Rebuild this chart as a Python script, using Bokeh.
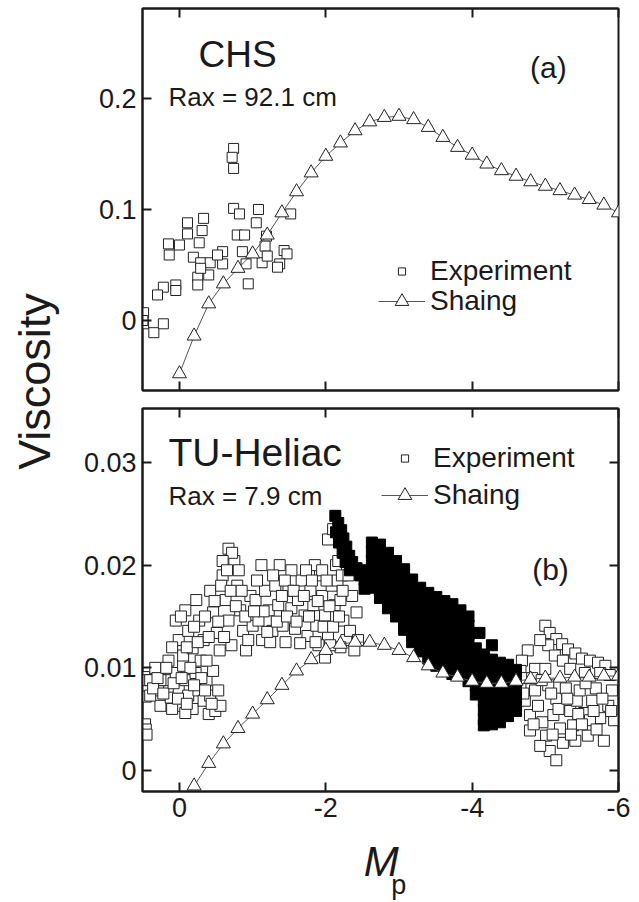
import math
from bokeh.plotting import figure
from bokeh.models import (Range1d, LinearAxis, FixedTicker, CustomJSTickFormatter,
                          Label, Legend, LegendItem)
from bokeh.layouts import row, column
from bokeh.embed import file_html
from bokeh.resources import INLINE

FONT = "Liberation Sans"
INK = "#1a1a1a"

# ---------------- data ----------------
x_ticks = [0, -2, -4, -6]
chs_ticks = [0, 0.1, 0.2]
tu_ticks = [0, 0.01, 0.02, 0.03]

chs_shaing_x = [0.0, -0.2, -0.4, -0.6, -0.8, -1.0, -1.2, -1.4, -1.6, -1.8, -2.0,
                -2.2, -2.4, -2.6, -2.8, -3.0, -3.2, -3.4, -3.6, -3.8, -4.0,
                -4.2, -4.4, -4.6, -4.8, -5.0, -5.2, -5.4, -5.6, -5.8, -6.0]
chs_shaing_y = [-0.048, -0.014, 0.015, 0.033, 0.047, 0.060, 0.077, 0.097, 0.116, 0.133, 0.148,
                0.160, 0.171, 0.179, 0.183, 0.184, 0.181, 0.174, 0.165, 0.156, 0.149,
                0.141, 0.135, 0.130, 0.125, 0.121, 0.117, 0.113, 0.109, 0.104, 0.097]

chs_exp = [(-0.74, 0.155), (-0.72, 0.147), (-0.74, 0.137), (-0.74, 0.101), (-0.82, 0.096),
           (-1.08, 0.100), (-1.05, 0.088), (-1.52, 0.096), (-0.11, 0.088), (-0.33, 0.092),
           (-0.11, 0.078), (-0.31, 0.081), (0.15, 0.069), (0.0, 0.068), (0.14, 0.059),
           (-0.27, 0.070), (-0.79, 0.077), (-0.89, 0.077), (-1.19, 0.076), (-1.17, 0.067),
           (-0.86, 0.062), (-0.59, 0.062), (-0.19, 0.057), (-0.29, 0.052), (-0.42, 0.052),
           (-0.59, 0.051), (-0.91, 0.051), (-1.13, 0.052), (-1.20, 0.058), (-1.43, 0.063),
           (-1.47, 0.060), (-1.37, 0.051), (-1.34, 0.048), (-0.25, 0.039), (-0.40, 0.041),
           (-0.25, 0.032), (-0.94, 0.033), (0.22, 0.030), (0.05, 0.032), (0.05, 0.027),
           (0.30, 0.023), (0.49, 0.007), (0.49, -0.003), (0.35, -0.011), (0.22, -0.003),
           (0.50, 0.000), (-0.52, 0.059), (-0.29, 0.047)]

tu_shaing_x = [-0.2, -0.4, -0.6, -0.8, -1.0, -1.2, -1.4, -1.6, -1.8, -2.0,
               -2.2, -2.4, -2.6, -2.8, -3.0, -3.2, -3.4, -3.6, -3.8, -4.0,
               -4.2, -4.4, -4.6, -4.8, -5.0, -5.2, -5.4, -5.6, -5.8, -6.0]
tu_shaing_y = [-0.0015, 0.0007, 0.0026, 0.0041, 0.0055, 0.0069, 0.0083, 0.0097, 0.0108, 0.0117,
               0.0123, 0.0125, 0.0125, 0.0122, 0.0117, 0.0110, 0.0102, 0.0095, 0.0091, 0.0087,
               0.0085, 0.0085, 0.0087, 0.0089, 0.0090, 0.0090, 0.0091, 0.0091, 0.0092, 0.0092]

tu_exp = [
    # left edge
    (0.48, 0.0091), (0.48, 0.0084), (0.47, 0.0078), (0.46, 0.0072), (0.44, 0.0088),
    (0.47, 0.0045), (0.46, 0.0040), (0.45, 0.0035),
    # lower-left lobe
    (0.33, 0.0100), (0.29, 0.0078), (0.26, 0.0063), (0.19, 0.0088), (0.15, 0.0107),
    (0.12, 0.0071), (0.05, 0.0095), (0.01, 0.0080), (-0.01, 0.0063), (-0.05, 0.0102),
    (-0.08, 0.0088), (-0.12, 0.0073), (-0.18, 0.0060), (-0.22, 0.0095), (-0.26, 0.0078),
    (-0.29, 0.0107), (-0.33, 0.0068), (-0.37, 0.0088), (-0.40, 0.0055), (-0.42, 0.0073),
    (-0.46, 0.0097), (-0.49, 0.0058), (-0.53, 0.0078), (-0.56, 0.0063), (0.26, 0.0088),
    (0.10, 0.0060), (-0.08, 0.0056), (0.40, 0.0088), (0.40, 0.0073), (0.36, 0.0080),
    (0.22, 0.0075), (-0.15, 0.0100), (-0.30, 0.0090),
    (0.30, 0.0090), (0.18, 0.0100), (0.08, 0.0085), (-0.03, 0.0090), (-0.44, 0.0065),
    (-0.35, 0.0078), (-0.20, 0.0083), (0.02, 0.0070), (-0.10, 0.0065),
    # upper-left lobe
    (0.05, 0.0146), (0.01, 0.0127), (-0.05, 0.0112), (-0.08, 0.0156), (-0.12, 0.0136),
    (-0.18, 0.0119), (-0.23, 0.0166), (-0.27, 0.0146), (-0.33, 0.0127), (-0.37, 0.0107),
    (-0.42, 0.0175), (-0.46, 0.0154), (-0.51, 0.0134), (-0.55, 0.0117), (-0.59, 0.0190),
    (-0.63, 0.0166), (-0.67, 0.0146), (-0.71, 0.0122), (-0.75, 0.0204), (-0.79, 0.0180),
    (-0.83, 0.0156), (-0.87, 0.0136), (-0.91, 0.0117), (-0.67, 0.0216), (-0.72, 0.0212),
    (-0.59, 0.0204), (-0.81, 0.0195), (-0.97, 0.0170), (-1.00, 0.0141), (-0.94, 0.0127),
    (0.10, 0.0120), (-0.02, 0.0150),
    (-0.10, 0.0120), (-0.20, 0.0140), (-0.25, 0.0125), (-0.35, 0.0150), (-0.40, 0.0130),
    (-0.48, 0.0165), (-0.53, 0.0145), (-0.57, 0.0180), (-0.61, 0.0130), (-0.65, 0.0195),
    (-0.70, 0.0175), (-0.77, 0.0160), (-0.85, 0.0175), (-0.90, 0.0150),
    # middle
    (-1.04, 0.0166), (-1.08, 0.0146), (-1.13, 0.0127), (-1.17, 0.0175), (-1.22, 0.0156),
    (-1.27, 0.0136), (-1.31, 0.0180), (-1.35, 0.0161), (-1.41, 0.0141), (-1.45, 0.0125),
    (-1.49, 0.0175), (-1.53, 0.0158), (-1.58, 0.0138), (-1.62, 0.0166), (-1.67, 0.0185),
    (-1.71, 0.0151), (-1.75, 0.0131), (-1.79, 0.0175), (-1.83, 0.0161), (-1.87, 0.0141),
    (-1.92, 0.0190), (-1.95, 0.0170), (-1.99, 0.0151), (-2.03, 0.0131), (-2.08, 0.0180),
    (-2.12, 0.0161), (-2.16, 0.0185), (-2.20, 0.0166), (-2.24, 0.0146), (-2.28, 0.0127),
    (-1.90, 0.0122), (-1.65, 0.0124), (-1.24, 0.0125), (-1.37, 0.0200), (-1.53, 0.0195),
    (-1.85, 0.0200), (-1.95, 0.0195), (-2.03, 0.0225),
    (-1.06, 0.0185), (-1.15, 0.0155), (-1.20, 0.0135), (-1.28, 0.0190), (-1.33, 0.0145),
    (-1.40, 0.0170), (-1.44, 0.0185), (-1.47, 0.0150), (-1.56, 0.0175), (-1.60, 0.0145),
    (-1.70, 0.0170), (-1.73, 0.0195), (-1.77, 0.0150), (-1.81, 0.0185), (-1.86, 0.0125),
    (-1.89, 0.0165), (-1.97, 0.0140), (-2.01, 0.0185), (-2.05, 0.0160), (-2.10, 0.0140),
    (-2.14, 0.0200), (-2.18, 0.0150), (-2.22, 0.0190), (-1.12, 0.0200), (-1.02, 0.0155),
    # around the first dark streak
    (-2.31, 0.0190), (-2.36, 0.0170), (-2.42, 0.0154), (-2.33, 0.0136), (-2.27, 0.0204),
    (-2.44, 0.0127), (-2.10, 0.0235), (-2.17, 0.0204), (-2.23, 0.0175), (-2.39, 0.0117),
    (-2.20, 0.0120), (-1.99, 0.0110), (-2.06, 0.0122),
    # right cluster, upper
    (-5.00, 0.0141), (-5.06, 0.0134), (-5.15, 0.0128), (-5.23, 0.0123), (-5.31, 0.0118),
    (-5.41, 0.0114), (-5.50, 0.0109), (-5.61, 0.0107), (-5.72, 0.0105), (-5.82, 0.0102),
    (-5.04, 0.0122), (-5.13, 0.0112), (-5.24, 0.0107), (-4.93, 0.0127), (-4.76, 0.0117),
    (-4.68, 0.0107), (-4.86, 0.0099), (-5.00, 0.0099), (-5.34, 0.0099), (-5.54, 0.0095),
    (-5.75, 0.0095), (-5.88, 0.0093), (-4.66, 0.0097),
    # right cluster, lower
    (-4.66, 0.0083), (-4.72, 0.0068), (-4.79, 0.0054), (-4.86, 0.0078), (-4.90, 0.0063),
    (-4.96, 0.0047), (-5.01, 0.0034), (-5.06, 0.0019), (-5.11, 0.0054), (-5.15, 0.0070),
    (-5.20, 0.0041), (-5.24, 0.0027), (-5.28, 0.0080), (-5.34, 0.0058), (-5.38, 0.0044),
    (-5.43, 0.0068), (-5.47, 0.0078), (-5.53, 0.0056), (-5.58, 0.0034), (-5.64, 0.0068),
    (-5.69, 0.0080), (-5.75, 0.0051), (-5.80, 0.0029), (-5.86, 0.0063), (-5.91, 0.0078),
    (-5.04, 0.0083), (-4.79, 0.0039), (-4.93, 0.0024), (-5.15, 0.0010), (-5.61, 0.0049),
    (-5.94, 0.0049), (-4.68, 0.0090), (-5.41, 0.0029),
    (-4.70, 0.0075), (-4.82, 0.0090), (-4.95, 0.0088), (-5.08, 0.0075), (-5.18, 0.0060),
    (-5.30, 0.0070), (-5.45, 0.0055), (-5.55, 0.0085), (-5.66, 0.0058), (-5.78, 0.0070),
    (-5.90, 0.0058), (-4.84, 0.0045), (-5.10, 0.0035), (-5.50, 0.0045), (-5.70, 0.0040),
    (-5.35, 0.0035),
]

tu_filled = [
    # steep streak near -2.2
    (-2.13, 0.0248), (-2.17, 0.0241), (-2.21, 0.0234), (-2.14, 0.0232), (-2.24, 0.0226),
    (-2.18, 0.0222), (-2.28, 0.0218), (-2.23, 0.0212), (-2.32, 0.0209), (-2.27, 0.0203),
    (-2.36, 0.0203), (-2.42, 0.0197), (-2.33, 0.0195), (-2.47, 0.0190), (-2.54, 0.0185),
    (-2.53, 0.0195), (-2.53, 0.0186), (-2.53, 0.0177),
    # long diagonal band
    (-2.63, 0.0222), (-2.63, 0.0213), (-2.63, 0.0204), (-2.63, 0.0195), (-2.63, 0.0186), (-2.63, 0.0178),
    (-2.74, 0.0220), (-2.74, 0.0211), (-2.74, 0.0202), (-2.74, 0.0193), (-2.74, 0.0184), (-2.74, 0.0175),
    (-2.74, 0.0168),
    (-2.85, 0.0212), (-2.85, 0.0203), (-2.85, 0.0194), (-2.85, 0.0185), (-2.85, 0.0176), (-2.85, 0.0167),
    (-2.85, 0.0158),
    (-2.96, 0.0204), (-2.96, 0.0195), (-2.96, 0.0186), (-2.96, 0.0177), (-2.96, 0.0168), (-2.96, 0.0159),
    (-2.96, 0.0150),
    (-3.07, 0.0196), (-3.07, 0.0187), (-3.07, 0.0178), (-3.07, 0.0169), (-3.07, 0.0160), (-3.07, 0.0151),
    (-3.07, 0.0142), (-3.07, 0.0137),
    (-3.18, 0.0186), (-3.18, 0.0177), (-3.18, 0.0168), (-3.18, 0.0159), (-3.18, 0.0150), (-3.18, 0.0141),
    (-3.18, 0.0132), (-3.18, 0.0125),
    (-3.29, 0.0178), (-3.29, 0.0169), (-3.29, 0.0160), (-3.29, 0.0151), (-3.29, 0.0142), (-3.29, 0.0133),
    (-3.29, 0.0124), (-3.29, 0.0116),
    (-3.40, 0.0173), (-3.40, 0.0164), (-3.40, 0.0155), (-3.40, 0.0146), (-3.40, 0.0137), (-3.40, 0.0128),
    (-3.40, 0.0119), (-3.40, 0.0109),
    (-3.51, 0.0169), (-3.51, 0.0160), (-3.51, 0.0151), (-3.51, 0.0142), (-3.51, 0.0133), (-3.51, 0.0124),
    (-3.51, 0.0115), (-3.51, 0.0106), (-3.51, 0.0102),
    (-3.62, 0.0165), (-3.62, 0.0156), (-3.62, 0.0147), (-3.62, 0.0138), (-3.62, 0.0129), (-3.62, 0.0120),
    (-3.62, 0.0111), (-3.62, 0.0102), (-3.62, 0.0098),
    (-3.73, 0.0162), (-3.73, 0.0153), (-3.73, 0.0144), (-3.73, 0.0135), (-3.73, 0.0126), (-3.73, 0.0117),
    (-3.73, 0.0108), (-3.73, 0.0099), (-3.73, 0.0094),
    (-3.84, 0.0156), (-3.84, 0.0147), (-3.84, 0.0138), (-3.84, 0.0129), (-3.84, 0.0120), (-3.84, 0.0111),
    (-3.84, 0.0102), (-3.84, 0.0093),
    (-3.95, 0.0150), (-3.95, 0.0141), (-3.95, 0.0132), (-3.95, 0.0123), (-3.95, 0.0114), (-3.95, 0.0105),
    (-3.95, 0.0096), (-3.95, 0.0087),
    (-4.05, 0.0119), (-4.05, 0.0110), (-4.05, 0.0101), (-4.05, 0.0092), (-4.05, 0.0083), (-4.05, 0.0074),
    (-4.10, 0.0134), (-4.27, 0.0122),
    # lower blob near -4.3
    (-4.16, 0.0113), (-4.16, 0.0104), (-4.16, 0.0095), (-4.16, 0.0086), (-4.16, 0.0077), (-4.16, 0.0068),
    (-4.16, 0.0059), (-4.16, 0.0050), (-4.16, 0.0044),
    (-4.27, 0.0108), (-4.27, 0.0099), (-4.27, 0.0090), (-4.27, 0.0081), (-4.27, 0.0072), (-4.27, 0.0063),
    (-4.27, 0.0054), (-4.27, 0.0045),
    (-4.38, 0.0105), (-4.38, 0.0096), (-4.38, 0.0087), (-4.38, 0.0078), (-4.38, 0.0069), (-4.38, 0.0060),
    (-4.38, 0.0051), (-4.38, 0.0047),
    (-4.49, 0.0103), (-4.49, 0.0094), (-4.49, 0.0085), (-4.49, 0.0076), (-4.49, 0.0067), (-4.49, 0.0058),
    (-4.49, 0.0053),
    (-4.60, 0.0098), (-4.60, 0.0089), (-4.60, 0.0080), (-4.60, 0.0071), (-4.60, 0.0062), (-4.60, 0.0058),
]

chs_exp_x = [a for a, b in chs_exp]
chs_exp_y = [b for a, b in chs_exp]
tu_exp_x = [a for a, b in tu_exp]
tu_exp_y = [b for a, b in tu_exp]
tu_fill_x = [a for a, b in tu_filled]
tu_fill_y = [b for a, b in tu_filled]

# ---------------- helpers ----------------
FMT = "return String(Math.round(tick*1000)/1000);"


def cfg_axis(ax, ticks, labels=True):
    ax.ticker = FixedTicker(ticks=ticks)
    ax.formatter = CustomJSTickFormatter(code=FMT)
    ax.major_tick_in = 9
    ax.major_tick_out = 0
    ax.minor_tick_line_color = None
    ax.major_tick_line_width = 2
    ax.major_tick_line_color = INK
    ax.axis_line_width = 2
    ax.axis_line_color = INK
    ax.major_label_text_font = FONT
    if labels:
        ax.major_label_text_color = INK
        ax.major_label_text_font_size = "27px"
        ax.major_label_standoff = 6
    else:
        ax.major_label_text_color = None
        ax.major_label_text_font_size = "1px"
        ax.major_label_standoff = 0


def base_fig(height, yr, top, bottom):
    p = figure(width=553, height=height, x_range=Range1d(0.505, -6.0), y_range=yr,
               output_backend="svg", toolbar_location=None,
               min_border_left=64, min_border_right=13,
               min_border_top=top, min_border_bottom=bottom)
    p.xgrid.visible = False
    p.ygrid.visible = False
    p.outline_line_color = INK
    p.outline_line_width = 2
    p.background_fill_color = "white"
    p.border_fill_color = "white"
    return p


def blank_fig(width, height):
    f = figure(width=width, height=height, x_range=Range1d(0, width), y_range=Range1d(0, height),
               output_backend="svg", toolbar_location=None, min_border=0,
               x_axis_type=None, y_axis_type=None, outline_line_color=None)
    return f


def legend_one(item, loc, gh):
    lg = Legend(items=[item], location=loc, glyph_width=47, glyph_height=gh,
                label_standoff=5, padding=0, margin=0, spacing=0,
                border_line_color=None, background_fill_alpha=0,
                label_text_font=FONT, label_text_font_size="28px", label_text_color=INK)
    return lg


def label(p, x, y, text, size, **kw):
    p.add_layout(Label(x=x, y=y, text=text, text_font=FONT, text_font_size=size,
                       text_color=INK, text_align="left", text_baseline="alphabetic", **kw))


# ---------------- panel (a): CHS ----------------
p1 = base_fig(399, Range1d(-0.0631, 0.2811), 8, 9)
cfg_axis(p1.xaxis[0], x_ticks, labels=False)
cfg_axis(p1.yaxis[0], chs_ticks, labels=True)
top1 = LinearAxis()
cfg_axis(top1, x_ticks, labels=False)
p1.add_layout(top1, "above")

sq1 = p1.scatter(chs_exp_x, chs_exp_y, marker="square", size=10, fill_color="white",
                 line_color="#222222", line_width=1)
ln1 = p1.line(chs_shaing_x, chs_shaing_y, line_color="#555555", line_width=1)
tr1 = p1.scatter(chs_shaing_x, chs_shaing_y, marker="triangle", size=14, fill_color="white",
                 line_color="#222222", line_width=1)

p1.add_layout(legend_one(LegendItem(label="Experiment", renderers=[sq1]), (236, 103), 18))
p1.add_layout(legend_one(LegendItem(label="Shaing", renderers=[ln1, tr1]), (236, 72), 34))

label(p1, -0.26, 0.2396, "CHS", "37px")
label(p1, 0.15, 0.2010, "Rax = 92.1 cm", "26px")
label(p1, -4.79, 0.2283, "(a)", "30px")

# ---------------- panel (b): TU-Heliac ----------------
p2 = base_fig(437, Range1d(-0.00204, 0.03525), 9, 45)
cfg_axis(p2.xaxis[0], x_ticks, labels=True)
cfg_axis(p2.yaxis[0], tu_ticks, labels=True)
top2 = LinearAxis()
cfg_axis(top2, x_ticks, labels=False)
p2.add_layout(top2, "above")
right2 = LinearAxis()
cfg_axis(right2, tu_ticks, labels=False)
p2.add_layout(right2, "right")

sq2 = p2.scatter(tu_exp_x, tu_exp_y, marker="square", size=11, fill_color="white",
                 line_color="#222222", line_width=1)
p2.scatter(tu_fill_x, tu_fill_y, marker="square", size=11, fill_color="black",
           line_color="black", line_width=1)
ln2 = p2.line(tu_shaing_x, tu_shaing_y, line_color="#555555", line_width=1)
tr2 = p2.scatter(tu_shaing_x, tu_shaing_y, marker="triangle", size=14, fill_color="white",
                 line_color="#222222", line_width=1)

p2.add_layout(legend_one(LegendItem(label="Experiment", renderers=[sq2]), (239, 317), 18))
p2.add_layout(legend_one(LegendItem(label="Shaing", renderers=[ln2, tr2]), (239, 279), 34))

label(p2, 0.15, 0.03096, "TU-Heliac", "39px")
label(p2, 0.15, 0.02677, "Rax = 7.9 cm", "26px")
label(p2, -4.82, 0.01961, "(b)", "30px")

# ---------------- x-axis title strip ----------------
px = blank_fig(553, 65)
label(px, 257, 40, "M", "42px", text_font_style="italic")
label(px, 289, 17, "p", "27px")

# ---------------- shared y label ----------------
pv = blank_fig(78, 901)
pv.add_layout(Label(x=34, y=901 - 381, text="Viscosity", angle=math.pi / 2, angle_units="rad",
                    text_font=FONT, text_font_size="45px", text_color=INK,
                    text_align="center", text_baseline="middle"))

layout = row(pv, column(p1, p2, px, spacing=0), spacing=0)

open("out.html", "w").write(file_html(layout, INLINE))
